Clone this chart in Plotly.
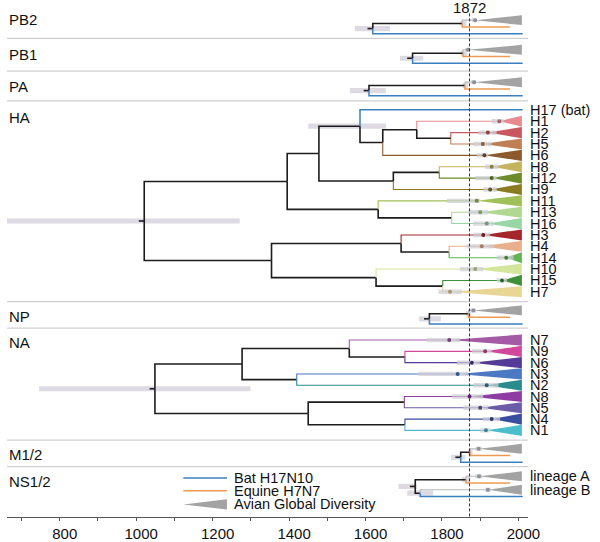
import plotly.graph_objects as go

FONT = "Liberation Sans, Arial, Helvetica, sans-serif"

# ---------------- global settings / data ----------------
X_RANGE = [662, 2025]
TRI_END = 2009        # present-day end of clade triangles
BAT_END = 2011        # tip of bat lineage lines
EQU_END = 1978        # tip of equine lineage lines
REF_YEAR = 1872
STUB = 14             # root stub length (years)

BAT_C = "#3b7fc0"
EQU_C = "#ef9a52"
AVI_C = "#a3a3a3"
AVI_LINE = "#b8b8b8"
BLACK = "#1c1c1c"
CI_C = "rgba(205,205,212,0.72)"
ROOT_CI_C = "#dedae3"

panel_names = ["PB2", "PB1", "PA", "HA", "NP", "NA", "M1/2", "NS1/2"]
panel_label_y = [20, 54.5, 87, 118.5, 318.5, 345.5, 458.5, 485.5]
separator_y = [38.7, 71.7, 101.7, 304, 330.7, 443.5, 470.3]

# ---- small panels (avian, equine, bat) ----
small_names = ["PB2", "PB1", "PA", "NP", "M1/2"]
small_top = [20.3, 50.2, 82.8, 312.8, 452.3]
small_root = [1619, 1723, 1609, 1767, 1849]
small_root_lo = [1572, 1690, 1559, 1740, 1824]
small_root_hi = [1664, 1751, 1653, 1797, 1861]
small_split = [1853, 1855, 1860, 1869, 1874]
small_split_lo = [1847, 1849, 1854, 1863, 1868]
small_split_hi = [1864, 1866, 1868, 1876, 1880]
small_avian = [1887, 1868, 1884, 1882, 1896]
small_avian_lo = [1878, 1861, 1876, 1875, 1887]
small_avian_hi = [1891, 1875, 1890, 1889, 1904]
SMALL_ROW = 6.8

# ---- NS1/2 (lineage A, equine, lineage B, bat) ----
ns_top = 480.0
ns_root, ns_root_ci = 1730, (1686, 1734)
ns_nodeA, ns_nodeA_ci = 1863, (1852, 1874)
ns_nodeB, ns_nodeB_ci = 1743, (1709, 1777)
ns_avianA, ns_avianA_ci = 1897, (1887, 1905)
ns_avianB, ns_avianB_ci = 1920, (1913, 1927)
ns_labels = ["lineage A", "", "lineage B", ""]

# ---- HA ----
ha_names = ["H17 (bat)", "H1", "H2", "H5", "H6", "H8", "H12", "H9", "H11",
            "H13", "H16", "H3", "H4", "H14", "H10", "H15", "H7"]
ha_colors = [BAT_C, "#e88b8f", "#c9575f", "#bf7f55", "#8c5a2c", "#c6b35d",
             "#6e8c2b", "#8a7a22", "#a2c05a", "#b0d890", "#98d6a6", "#a3262c",
             "#e9ae8c", "#62b450", "#d4e69c", "#3d8f3a", "#e8d694"]
ha_mrca = [None, 1950, 1920, 1907, 1911, 1930, 1930, 1926, 1891, 1900, 1917,
           1908, 1904, 1968, 1887, 1957, 1821]
ha_ci_lo = [None, 1930, 1895, 1882, 1891, 1913, 1887, 1908, 1813, 1869, 1882,
            1882, 1865, 1943, 1847, 1943, 1791]
ha_ci_hi = [None, 1961, 1943, 1930, 1921, 1948, 1943, 1943, 1900, 1921, 1935,
            1926, 1935, 1987, 1908, 1970, 1852]
HA_TOP, HA_ROW = 110.7, 11.46
# node = (year, ci or None, children); ints are tip indices
HA_TREE = (1021, (660, 1271), [
    (1395, None, [
        (1478, None, [
            (1585.5, (1450, 1654), [0, (1645, None, [(1734, None, [1, (1823, None, [2, 3])]), 4])]),
            (1672.7, None, [(1793, None, [5, 6]), 7])]),
        (1633, None, [8, (1825.6, None, [9, 10])])]),
    (1354, None, [
        (1693, None, [11, (1818.6, None, [12, 13])]),
        (1627.5, None, [14, (1802, None, [15, 16])])])])

# ---- NA ----
na_names = ["N7", "N9", "N6", "N3", "N2", "N8", "N5", "N4", "N1"]
na_colors = ["#a55aa6", "#d2489a", "#553a98", "#4b79c4", "#2a8b8c", "#8e3ca4",
             "#6b5ba8", "#3a4ea0", "#4dbdcb"]
na_mrca = [1819, 1913, 1878, 1841, 1917, 1872, 1900, 1930, 1915]
na_ci_lo = [1760, 1878, 1839, 1738, 1882, 1826, 1856, 1907, 1900]
na_ci_hi = [1847, 1930, 1900, 1869, 1948, 1908, 1921, 1952, 1926]
NA_TOP, NA_ROW = 342.7, 11.375
NA_TREE = (1049, (746, 1299), [
    (1277, None, [
        (1557.5, None, [0, (1703, None, [1, 2])]),
        (1420, None, [3, 4])]),
    (1450, None, [
        (1701.5, None, [5, 6]),
        (1703, None, [7, 8])])])

# ---------------- drawing helpers ----------------
lines = {}
node_cis, leaf_cis, dots, tris, labels = [], [], [], [], []


def add_path(color, width, xs, ys):
    L = lines.setdefault((color, width), ([], []))
    L[0].extend(xs + [None])
    L[1].extend(ys + [None])


def darker(hexc, f=0.72):
    h = hexc.lstrip("#")
    r, g, b = (int(h[i:i + 2], 16) for i in (0, 2, 4))
    return "rgb(%d,%d,%d)" % (r * f, g * f, b * f)


def draw(node, tips):
    if isinstance(node, int):
        return tips[node]["y"]
    year, ci, kids = node
    kys = [draw(k, tips) for k in kids]
    py = sum(kys) / len(kys)
    for k, ky in zip(kids, kys):
        if isinstance(k, int):
            t = tips[k]
            add_path(t["line"], t["w"], [year, year, t["end"]], [py, ky, ky])
        else:
            add_path(BLACK, 1.6, [year, year, k[0]], [py, ky, ky])
    if ci:
        node_cis.append((ci[0], ci[1], py, 2.6))
    return py


def finish_tips(tips, half):
    for t in tips:
        if t.get("dot") is not None:
            tris.append((t["dot"], t["y"], half, t["tri"]))
            leaf_cis.append((t["lo"], t["hi"], t["y"], 2.2))
            dots.append((t["dot"], t["y"], t["dotc"]))
        if t.get("label"):
            labels.append((t["label"], t["y"]))


def plot_tree(tree, tips, half):
    ry = draw(tree, tips)
    add_path(BLACK, 1.6, [tree[0] - STUB, tree[0]], [ry, ry])
    finish_tips(tips, half)


# HA
ha_tips = []
for i, n in enumerate(ha_names):
    y = HA_TOP + i * HA_ROW
    if ha_mrca[i] is None:
        ha_tips.append(dict(y=y, line=ha_colors[i], w=1.5, end=BAT_END, label=n))
    else:
        ha_tips.append(dict(y=y, line=ha_colors[i], w=1.1, end=ha_mrca[i], dot=ha_mrca[i],
                            lo=ha_ci_lo[i], hi=ha_ci_hi[i], tri=ha_colors[i],
                            dotc=darker(ha_colors[i]), label=n))
plot_tree(HA_TREE, ha_tips, 5.6)

# NA
na_tips = []
for i, n in enumerate(na_names):
    y = NA_TOP + i * NA_ROW
    na_tips.append(dict(y=y, line=na_colors[i], w=1.1, end=na_mrca[i], dot=na_mrca[i],
                        lo=na_ci_lo[i], hi=na_ci_hi[i], tri=na_colors[i],
                        dotc=darker(na_colors[i]), label=n))
plot_tree(NA_TREE, na_tips, 5.6)

# small panels
for j in range(len(small_names)):
    y0 = small_top[j]
    tips = [
        dict(y=y0, line=AVI_LINE, w=1.1, end=small_avian[j], dot=small_avian[j],
             lo=small_avian_lo[j], hi=small_avian_hi[j], tri=AVI_C, dotc="#8f8f9a"),
        dict(y=y0 + SMALL_ROW, line=EQU_C, w=1.5, end=EQU_END),
        dict(y=y0 + 2 * SMALL_ROW, line=BAT_C, w=1.5, end=BAT_END),
    ]
    tree = (small_root[j], (small_root_lo[j], small_root_hi[j]), [
        (small_split[j], (small_split_lo[j], small_split_hi[j]), [0, 1]), 2])
    plot_tree(tree, tips, 5.0)

# NS1/2
ns_tips = [
    dict(y=ns_top, line=AVI_LINE, w=1.1, end=ns_avianA, dot=ns_avianA,
         lo=ns_avianA_ci[0], hi=ns_avianA_ci[1], tri=AVI_C, dotc="#8f8f9a", label=ns_labels[0]),
    dict(y=ns_top + SMALL_ROW, line=EQU_C, w=1.5, end=EQU_END),
    dict(y=ns_top + 2 * SMALL_ROW, line=AVI_LINE, w=1.1, end=ns_avianB, dot=ns_avianB,
         lo=ns_avianB_ci[0], hi=ns_avianB_ci[1], tri=AVI_C, dotc="#8f8f9a", label=ns_labels[2]),
    dict(y=ns_top + 3 * SMALL_ROW, line=BAT_C, w=1.5, end=BAT_END),
]
NS_TREE = (ns_root, ns_root_ci, [(ns_nodeA, ns_nodeA_ci, [0, 1]), (ns_nodeB, ns_nodeB_ci, [2, 3])])
plot_tree(NS_TREE, ns_tips, 5.0)

# ---------------- build figure ----------------
fig = go.Figure()


def rect_trace(boxes, color):
    xs, ys = [], []
    for lo, hi, y, h in boxes:
        xs += [lo, hi, hi, lo, lo, None]
        ys += [y - h, y - h, y + h, y + h, y - h, None]
    return go.Scatter(x=xs, y=ys, mode="lines", fill="toself", fillcolor=color,
                      line=dict(width=0), hoverinfo="skip", showlegend=False)


fig.add_trace(rect_trace(node_cis, ROOT_CI_C))

for (color, width), (xs, ys) in lines.items():
    fig.add_trace(go.Scatter(x=xs, y=ys, mode="lines", line=dict(color=color, width=width),
                             hoverinfo="skip", showlegend=False))

for x0, y, h, c in tris:
    fig.add_trace(go.Scatter(x=[x0, TRI_END, TRI_END, x0], y=[y, y - h, y + h, y],
                             mode="lines", fill="toself", fillcolor=c, line=dict(width=0, color=c),
                             hoverinfo="skip", showlegend=False))

fig.add_trace(rect_trace(leaf_cis, CI_C))

fig.add_trace(go.Scatter(x=[d[0] for d in dots], y=[d[1] for d in dots], mode="markers",
                         marker=dict(size=4, color=[d[2] for d in dots]),
                         hoverinfo="skip", showlegend=False))

# ---------------- layout, annotations, shapes ----------------
ann = []
for n, y in zip(panel_names, panel_label_y):
    ann.append(dict(x=0, xref="paper", y=y, yref="y", text=n, showarrow=False,
                    xanchor="left", yanchor="middle", font=dict(size=15, color="#111")))
for n, y in labels:
    ann.append(dict(x=1, xref="paper", y=y, yref="y", text=n, showarrow=False,
                    xanchor="left", yanchor="middle", font=dict(size=14.5, color="#111")))
ann.append(dict(x=REF_YEAR, xref="x", y=7.5, yref="y", text=str(REF_YEAR), showarrow=False,
                xanchor="center", yanchor="middle", font=dict(size=15, color="#111")))

# legend
LEG_X0, LEG_X1, LEG_TX = 0.3384, 0.4222, 0.4319
legend_items = [("Bat H17N10", BAT_C, 481.7), ("Equine H7N7", EQU_C, 494.5),
                ("Avian Global Diversity", AVI_C, 508.3)]
shapes = []
for text, c, y in legend_items:
    if text.startswith("Avian"):
        shapes.append(dict(type="path", xref="paper", yref="y",
                           path=f"M {LEG_X0},{y} L {LEG_X1},{y - 5.2} L {LEG_X1},{y + 5.2} Z",
                           fillcolor=c, line=dict(width=0)))
    else:
        shapes.append(dict(type="line", xref="paper", yref="y", x0=LEG_X0, x1=LEG_X1,
                           y0=y, y1=y, line=dict(color=c, width=1.5)))
    ann.append(dict(x=LEG_TX, xref="paper", y=y, yref="y", text=text, showarrow=False,
                    xanchor="left", yanchor="middle", font=dict(size=14.5, color="#111")))

for y in separator_y:
    shapes.append(dict(type="line", xref="paper", yref="y", x0=0, x1=1, y0=y, y1=y,
                       line=dict(color="#cfcfcf", width=1.2), layer="below"))
shapes.append(dict(type="line", xref="x", yref="y", x0=REF_YEAR, x1=REF_YEAR, y0=13.5, y1=521,
                   line=dict(color="#333", width=1, dash="3px,2px")))

fig.update_layout(
    width=600, height=542,
    margin=dict(l=7, r=72, t=0, b=21),
    paper_bgcolor="white", plot_bgcolor="white",
    font=dict(family=FONT, color="#111"),
    showlegend=False,
    annotations=ann, shapes=shapes,
    xaxis=dict(range=X_RANGE, showgrid=False, zeroline=False, showline=True,
               linecolor="#555", linewidth=1, ticks="outside", ticklen=3, tickcolor="#555",
               tick0=800, dtick=200, ticklabelshift=5,
               tickfont=dict(size=15, color="#111", family=FONT),
               minor=dict(dtick=100, tick0=800, ticks="outside", ticklen=3, tickcolor="#555")),
    yaxis=dict(range=[521, 0], visible=False, showgrid=False, zeroline=False),
)

fig.write_html("out.html", config={"displayModeBar": False, "staticPlot": True},
               post_script="document.body.style.margin='0';document.body.style.overflow='hidden';")
